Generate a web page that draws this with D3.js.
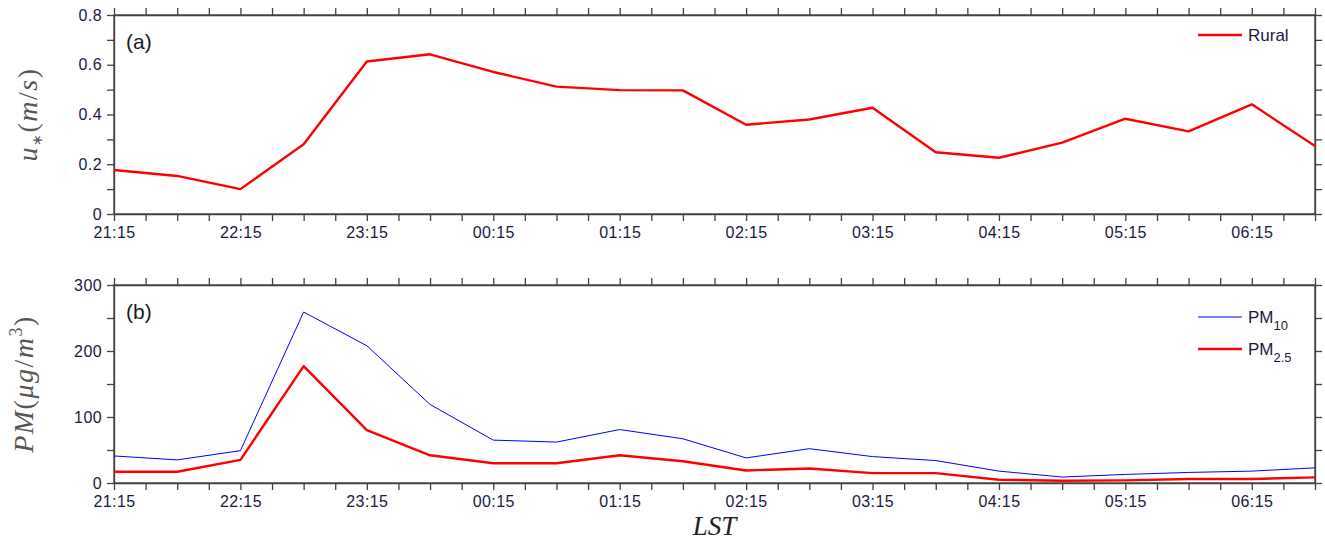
<!DOCTYPE html>
<html>
<head>
  <meta charset="UTF-8">
  <title>Friction velocity and PM</title>
  <script src="https://d3js.org/d3.v7.min.js"></script>
  <style>
    body { margin: 0; background: #fff; }
    .tick text { font-family: "Liberation Sans", Arial, sans-serif; font-size: 16px; fill: #1a1a40; letter-spacing: 0.4px; }
    .tick line, .domain { stroke: #404040; stroke-width: 1.3; }
  </style>
</head>
<body>
  <div id="chart"></div>

  <script>
    // half-hourly samples, 21:15 -> 06:45 LST
    const times = ["21:15","21:45","22:15","22:45","23:15","23:45","00:15","00:45","01:15","01:45",
                   "02:15","02:45","03:15","03:45","04:15","04:45","05:15","05:45","06:15","06:45"];
    const ustar = [0.177, 0.153, 0.10, 0.28, 0.613, 0.642, 0.571, 0.512, 0.498, 0.497,
                   0.359, 0.38, 0.427, 0.248, 0.226, 0.287, 0.383, 0.332, 0.441, 0.273];
    const pm10 = [41, 35, 49, 259, 208, 119, 65, 62, 81, 67,
                  38, 52, 40, 34, 18, 9, 13, 16, 18, 23];
    const pm25 = [17, 17, 35, 177, 80, 42, 30, 30, 42, 33,
                  19, 22, 15, 15, 5, 3.5, 4, 6, 6, 8.5];
    const uTicks = [0, 0.2, 0.4, 0.6, 0.8];
    const pmTicks = [0, 100, 200, 300];

    // turn "HH:MM" into dates, crossing midnight
    const parse = d3.timeParse("%H:%M");
    const dates = times.map((t, i) => {
      const d = parse(t);
      if (d.getHours() < 12) d.setDate(d.getDate() + 1);
      return d;
    });

    const W = 1325, H = 542;
    const left = 114, right = 1315;
    const panels = [
      { top: 15, bottom: 214 },
      { top: 285, bottom: 483 }
    ];

    const svg = d3.select("#chart").append("svg")
      .attr("width", W).attr("height", H);

    const x = d3.scaleTime()
      .domain([dates[0], dates[dates.length - 1]])
      .range([left, right]);

    const minorX = d3.timeMinute.every(15).range(dates[0], d3.timeMinute.offset(dates[dates.length - 1], 1));
    const fmt = d3.timeFormat("%H:%M");
    const xLabel = d => d.getMinutes() === 15 ? fmt(d) : "";

    function drawPanel(p, yDomain, majors, minorStep, fmtY) {
      const y = d3.scaleLinear().domain(yDomain).range([p.bottom, p.top]);
      const yMinor = d3.range(yDomain[0], yDomain[1] + minorStep / 2, minorStep);

      // frame
      svg.append("rect")
        .attr("x", left).attr("y", p.top)
        .attr("width", right - left).attr("height", p.bottom - p.top)
        .attr("fill", "none").attr("stroke", "#404040").attr("stroke-width", 1.3);

      svg.append("g")
        .attr("transform", "translate(0," + p.bottom + ")")
        .call(d3.axisBottom(x).tickValues(minorX).tickFormat(xLabel).tickSize(7).tickSizeOuter(0).tickPadding(6));
      svg.append("g")
        .attr("transform", "translate(0," + p.top + ")")
        .call(d3.axisTop(x).tickValues(minorX).tickFormat("").tickSize(7).tickSizeOuter(0));
      svg.append("g")
        .attr("transform", "translate(" + left + ",0)")
        .call(d3.axisLeft(y).tickValues(yMinor)
          .tickFormat(v => majors.some(m => Math.abs(m - v) < 1e-9) ? fmtY(v) : "")
          .tickSize(7).tickSizeOuter(0).tickPadding(5));
      svg.append("g")
        .attr("transform", "translate(" + right + ",0)")
        .call(d3.axisRight(y).tickValues(yMinor).tickFormat("").tickSize(7).tickSizeOuter(0));

      return y;
    }

    // ---- panel (a)
    const ya = drawPanel(panels[0], [0, 0.8], uTicks, 0.1, v => v === 0 ? "0" : d3.format(".1f")(v));
    svg.append("path")
      .datum(ustar)
      .attr("fill", "none").attr("stroke", "#ff0000").attr("stroke-width", 2.4)
      .attr("stroke-linejoin", "round")
      .attr("d", d3.line().x((d, i) => x(dates[i])).y(d => ya(d)));

    // ---- panel (b)
    const yb = drawPanel(panels[1], [0, 300], pmTicks, 50, d3.format("d"));
    svg.append("path")
      .datum(pm10)
      .attr("fill", "none").attr("stroke", "#0000ff").attr("stroke-width", 1)
      .attr("d", d3.line().x((d, i) => x(dates[i])).y(d => yb(d)));
    svg.append("path")
      .datum(pm25)
      .attr("fill", "none").attr("stroke", "#ff0000").attr("stroke-width", 2.4)
      .attr("stroke-linejoin", "round")
      .attr("d", d3.line().x((d, i) => x(dates[i])).y(d => yb(d)));

    // panel tags
    const sans = "'Liberation Sans', Arial, sans-serif";
    svg.append("text").attr("x", 126).attr("y", 49).text("(a)")
      .style("font-family", sans).style("font-size", "21px").attr("fill", "#1a1a1a");
    svg.append("text").attr("x", 126).attr("y", 319).text("(b)")
      .style("font-family", sans).style("font-size", "21px").attr("fill", "#1a1a1a");

    // legends
    function legendItem(yy, color, w, name, sub) {
      svg.append("line").attr("x1", 1198).attr("x2", 1242).attr("y1", yy).attr("y2", yy)
        .attr("stroke", color).attr("stroke-width", w);
      const t = svg.append("text").attr("x", 1248).attr("y", yy + 6)
        .style("font-family", sans).style("font-size", "17px").attr("fill", "#1a1a40");
      t.append("tspan").text(name);
      if (sub) t.append("tspan").attr("dy", 7).style("font-size", "13px").text(sub);
    }
    legendItem(35, "#ff0000", 2.4, "Rural");
    legendItem(317, "#0000ff", 1, "PM", "10");
    legendItem(349, "#ff0000", 2.4, "PM", "2.5");

    // axis titles (math style)
    const serif = "'Liberation Serif', 'Times New Roman', serif";
    const ta = svg.append("text")
      .attr("transform", "translate(37," + ((panels[0].top + panels[0].bottom) / 2) + ") rotate(-90)")
      .attr("text-anchor", "middle")
      .style("font-family", serif).style("font-size", "28px").style("letter-spacing", "1.5px").attr("fill", "#555");
    ta.append("tspan").style("font-style", "italic").text("u");
    ta.append("tspan").attr("dy", 5).style("font-size", "14px").text("∗");
    ta.append("tspan").attr("dy", -5).text("(");
    ta.append("tspan").style("font-style", "italic").text("m");
    ta.append("tspan").text("/");
    ta.append("tspan").style("font-style", "italic").text("s");
    ta.append("tspan").text(")");

    const tb = svg.append("text")
      .attr("transform", "translate(33," + ((panels[1].top + panels[1].bottom) / 2) + ") rotate(-90)")
      .attr("text-anchor", "middle")
      .style("font-family", serif).style("font-size", "28px").style("letter-spacing", "1.5px").attr("fill", "#555");
    tb.append("tspan").style("font-style", "italic").text("PM");
    tb.append("tspan").text("(");
    tb.append("tspan").style("font-style", "italic").text("μg");
    tb.append("tspan").text("/");
    tb.append("tspan").style("font-style", "italic").text("m");
    tb.append("tspan").attr("dy", -11).style("font-size", "18px").text("3");
    tb.append("tspan").attr("dy", 11).text(")");

    svg.append("text")
      .attr("x", (left + right) / 2).attr("y", 535)
      .attr("text-anchor", "middle")
      .style("font-family", serif).style("font-style", "italic").style("font-size", "27px")
      .attr("fill", "#222").text("LST");
  </script>
</body>
</html>
